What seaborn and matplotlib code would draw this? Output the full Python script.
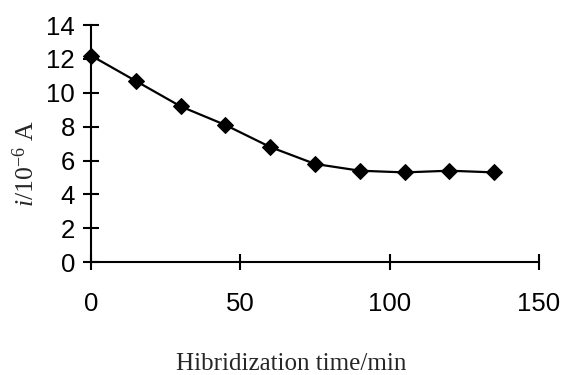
import matplotlib
matplotlib.use("Agg")
import matplotlib.pyplot as plt
import seaborn as sns
import pandas as pd

time_min = [0, 15, 30, 45, 60, 75, 90, 105, 120, 135]
current = [12.2, 10.7, 9.2, 8.1, 6.8, 5.8, 5.4, 5.3, 5.4, 5.3]
x_ticks = [0, 50, 100, 150]
y_ticks = [0, 2, 4, 6, 8, 10, 12, 14]

sns.set_style("ticks")
plt.rcParams["font.family"] = ["Liberation Sans", "DejaVu Sans"]
plt.rcParams["mathtext.fontset"] = "custom"
plt.rcParams["mathtext.rm"] = "Liberation Serif"
plt.rcParams["mathtext.it"] = "Liberation Serif:italic"

df = pd.DataFrame({"t": time_min, "i": current})

fig = plt.figure(figsize=(5.62, 3.75), dpi=100)
ax = fig.add_axes([0.162, 0.301, 0.797, 0.632])
sns.lineplot(data=df, x="t", y="i", ax=ax, color="black", linewidth=1.6,
             marker="D", markersize=8.5, markeredgecolor="black",
             markerfacecolor="black", clip_on=False)

ax.set_xlim(0, 150)
ax.set_ylim(0, 14)
ax.set_xticks(x_ticks)
ax.set_yticks(y_ticks)
for s in ["top", "right"]:
    ax.spines[s].set_visible(False)
for s in ["left", "bottom"]:
    ax.spines[s].set_linewidth(1.5)
    ax.spines[s].set_color("black")
ax.tick_params(axis="both", direction="inout", length=11, width=1.5,
               colors="black", labelsize=18.5)
ax.tick_params(axis="x", pad=16)
ax.tick_params(axis="y", pad=6)

ax.set_xlabel("Hibridization time/min", fontfamily="Liberation Serif",
              fontsize=18)
ax.xaxis.set_label_coords(0.446, -0.385)
ax.xaxis.label.set_verticalalignment("top")
ax.set_ylabel("$\\mathit{i}$/10$^{\\mathrm{-6}}$ A", fontfamily="Liberation Serif",
              fontsize=18.5)
ax.yaxis.set_label_coords(-0.147, 0.418)
ax.yaxis.label.set_verticalalignment("center")

fig.savefig("out.png", dpi=100)
